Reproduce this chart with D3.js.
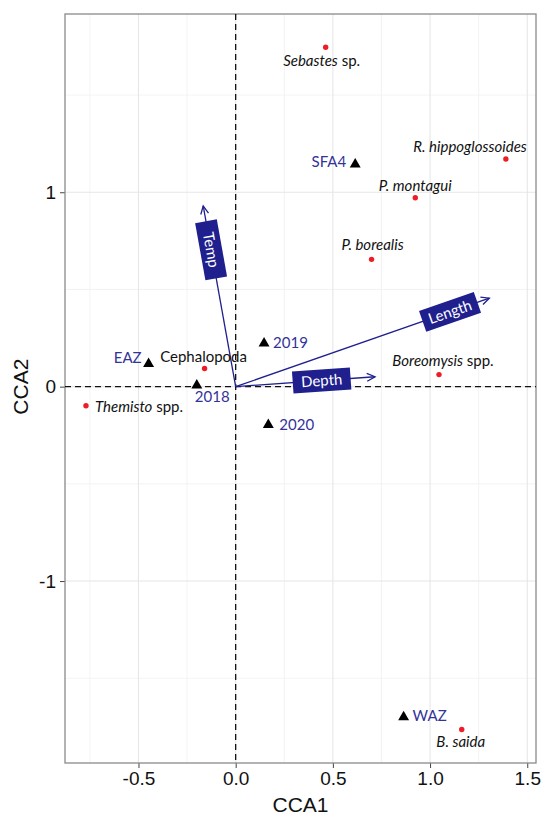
<!DOCTYPE html>
<html>
<head>
<meta charset="utf-8">
<script src="https://cdn.jsdelivr.net/npm/d3@7"></script>
<style>
  html, body { margin: 0; padding: 0; background: #fff; }
  svg { display: block; }
</style>
</head>
<body>
<svg id="chart" width="543" height="815"></svg>
<script>
// ---- CCA ordination scores ----
const speciesNames = ["Sebastes sp.", "R. hippoglossoides", "P. montagui", "P. borealis",
                      "Boreomysis spp.", "Cephalopoda", "Themisto spp.", "B. saida"];
const speciesCCA1 = [0.463, 1.390, 0.924, 0.699, 1.046, -0.160, -0.770, 1.163];
const speciesCCA2 = [1.746, 1.171, 0.972, 0.655, 0.062, 0.093, -0.098, -1.764];

const siteNames = ["SFA4", "EAZ", "2018", "2019", "2020", "WAZ"];
const siteCCA1 = [0.615, -0.448, -0.200, 0.146, 0.168, 0.864];
const siteCCA2 = [1.144, 0.117, 0.007, 0.223, -0.197, -1.700];

const envNames = ["Temp", "Length", "Depth"];
const envCCA1 = [-0.167, 1.305, 0.717];
const envCCA2 = [0.930, 0.455, 0.051];

const xTicks = [-0.5, 0.0, 0.5, 1.0, 1.5];
const yTicks = [-1, 0, 1];
const xMinor = [-0.75, -0.25, 0.25, 0.75, 1.25];
const yMinor = [-1.5, -0.5, 0.5, 1.5];

// ---- layout ----
const svg = d3.select("#chart");
const panel = { left: 65, top: 14, right: 536, bottom: 763 };
const x = d3.scaleLinear().domain([-0.878, 1.545]).range([panel.left, panel.right]);
const y = d3.scaleLinear().domain([-1.936, 1.917]).range([panel.bottom, panel.top]);

const navy = "#1f1f8e";
const siteBlue = "#33339a";
const textFont = "Lato, 'Open Sans', sans-serif";
const axisFont = "'Liberation Sans', Arial, sans-serif";
const hyphenate = f => d => f(d).replace("\u2212", "-");

// grid
const grid = svg.append("g");
grid.selectAll("line.vminor").data(xMinor).join("line")
  .attr("x1", d => x(d)).attr("x2", d => x(d))
  .attr("y1", panel.top).attr("y2", panel.bottom)
  .attr("stroke", "#f0f0f0").attr("stroke-width", 0.8);
grid.selectAll("line.hminor").data(yMinor).join("line")
  .attr("y1", d => y(d)).attr("y2", d => y(d))
  .attr("x1", panel.left).attr("x2", panel.right)
  .attr("stroke", "#f0f0f0").attr("stroke-width", 0.8);
grid.selectAll("line.vmajor").data(xTicks).join("line")
  .attr("x1", d => x(d)).attr("x2", d => x(d))
  .attr("y1", panel.top).attr("y2", panel.bottom)
  .attr("stroke", "#e6e6e6").attr("stroke-width", 1.1);
grid.selectAll("line.hmajor").data(yTicks).join("line")
  .attr("y1", d => y(d)).attr("y2", d => y(d))
  .attr("x1", panel.left).attr("x2", panel.right)
  .attr("stroke", "#e6e6e6").attr("stroke-width", 1.1);

// axes
const xAxis = d3.axisBottom(x).tickValues(xTicks).tickFormat(hyphenate(d3.format(".1f")))
  .tickSize(5).tickPadding(4);
const yAxis = d3.axisLeft(y).tickValues(yTicks).tickFormat(hyphenate(d3.format("d")))
  .tickSize(5).tickPadding(4);

const gx = svg.append("g").attr("transform", `translate(0,${panel.bottom})`).call(xAxis);
const gy = svg.append("g").attr("transform", `translate(${panel.left},0)`).call(yAxis);
[gx, gy].forEach(g => {
  g.select(".domain").remove();
  g.selectAll(".tick line").attr("stroke", "#444").attr("stroke-width", 1);
  g.selectAll(".tick text").attr("fill", "#111").attr("font-family", axisFont)
    .attr("font-size", 19);
});

// panel border
svg.append("rect")
  .attr("x", panel.left).attr("y", panel.top)
  .attr("width", panel.right - panel.left).attr("height", panel.bottom - panel.top)
  .attr("fill", "none").attr("stroke", "#8a8a8a").attr("stroke-width", 1.3);

// zero reference lines
svg.append("line")
  .attr("x1", x(0)).attr("x2", x(0)).attr("y1", panel.top).attr("y2", panel.bottom)
  .attr("stroke", "#111").attr("stroke-width", 1.3).attr("stroke-dasharray", "6,4");
svg.append("line")
  .attr("x1", panel.left).attr("x2", panel.right).attr("y1", y(0)).attr("y2", y(0))
  .attr("stroke", "#111").attr("stroke-width", 1.3).attr("stroke-dasharray", "6,4");

// axis titles
svg.append("text").attr("x", (panel.left + panel.right) / 2).attr("y", 812)
  .attr("text-anchor", "middle").attr("font-family", axisFont).attr("font-size", 21)
  .attr("fill", "#111").text("CCA1");
svg.append("text").attr("transform", `translate(28,${y(0)}) rotate(-90)`)
  .attr("text-anchor", "middle").attr("font-family", axisFont).attr("font-size", 21)
  .attr("fill", "#111").text("CCA2");

// environmental vectors
const envArrows = svg.append("g");
envNames.forEach((name, i) => {
  const x0 = x(0), y0 = y(0), x1 = x(envCCA1[i]), y1 = y(envCCA2[i]);
  const ang = Math.atan2(y1 - y0, x1 - x0);
  envArrows.append("line")
    .attr("x1", x0).attr("y1", y0).attr("x2", x1).attr("y2", y1)
    .attr("stroke", navy).attr("stroke-width", 1.3);
  const head = 9, spread = Math.PI / 7;
  envArrows.append("polyline")
    .attr("points", [
      [x1 - head * Math.cos(ang - spread), y1 - head * Math.sin(ang - spread)],
      [x1, y1],
      [x1 - head * Math.cos(ang + spread), y1 - head * Math.sin(ang + spread)]
    ].map(p => p.join(",")).join(" "))
    .attr("fill", "none").attr("stroke", navy).attr("stroke-width", 1.3);
});

// boxed labels placed along each vector
const envLabelFraction = { Temp: 0.757, Length: 0.845, Depth: 0.617 };
envNames.forEach((name, i) => {
  const x0 = x(0), y0 = y(0), x1 = x(envCCA1[i]), y1 = y(envCCA2[i]);
  const t = envLabelFraction[name];
  const cx = x0 + (x1 - x0) * t, cy = y0 + (y1 - y0) * t;
  let deg = Math.atan2(y1 - y0, x1 - x0) * 180 / Math.PI;
  if (deg < -90) deg += 180;
  const g = svg.append("g").attr("transform", `translate(${cx},${cy}) rotate(${deg})`);
  g.append("rect").attr("x", -29).attr("y", -11).attr("width", 58).attr("height", 22)
    .attr("fill", navy);
  g.append("text").attr("text-anchor", "middle").attr("dy", "0.35em")
    .attr("font-family", textFont).attr("font-size", 15).attr("fill", "#fff").text(name);
});

// sites: black triangles with blue labels
const siteLabel = {
  "SFA4": { dx: -9, dy: 3, anchor: "end" },
  "EAZ":  { dx: -7, dy: -1, anchor: "end" },
  "2018": { dx: -2, dy: 17, anchor: "start" },
  "2019": { dx: 9, dy: 5, anchor: "start" },
  "2020": { dx: 11, dy: 5, anchor: "start" },
  "WAZ":  { dx: 9, dy: 4, anchor: "start" }
};
const tri = d3.symbol().type(d3.symbolTriangle).size(52);
siteNames.forEach((name, i) => {
  const px = x(siteCCA1[i]), py = y(siteCCA2[i]);
  svg.append("path").attr("d", tri).attr("transform", `translate(${px},${py})`)
    .attr("fill", "#000");
  const p = siteLabel[name];
  svg.append("text").attr("x", px + p.dx).attr("y", py + p.dy)
    .attr("text-anchor", p.anchor).attr("font-family", textFont).attr("font-size", 15)
    .attr("fill", siteBlue).text(name);
});

// species: red points with labels (genus names in italics)
const speciesLabel = {
  "Sebastes sp.":       { dx: -4, dy: 19, anchor: "middle" },
  "R. hippoglossoides": { dx: 21, dy: -7, anchor: "end" },
  "P. montagui":        { dx: 0, dy: -7, anchor: "middle" },
  "P. borealis":        { dx: 1, dy: -9, anchor: "middle" },
  "Boreomysis spp.":    { dx: 4, dy: -9, anchor: "middle" },
  "Cephalopoda":        { dx: -1, dy: -7, anchor: "middle" },
  "Themisto spp.":      { dx: 9, dy: 6, anchor: "start" },
  "B. saida":           { dx: -1, dy: 17, anchor: "middle" }
};
const splitName = name => {
  const m = name.match(/^(.*?)( spp?\.)$/);
  return m ? [m[1], m[2]] : [name, ""];
};
speciesNames.forEach((name, i) => {
  const px = x(speciesCCA1[i]), py = y(speciesCCA2[i]);
  svg.append("circle").attr("cx", px).attr("cy", py).attr("r", 2.7).attr("fill", "#ee1c25");
  const p = speciesLabel[name];
  const t = svg.append("text").attr("x", px + p.dx).attr("y", py + p.dy)
    .attr("text-anchor", p.anchor).attr("font-family", textFont).attr("font-size", 15)
    .attr("fill", "#111");
  if (name === "Cephalopoda") {
    t.text(name);
  } else {
    const [ital, rest] = splitName(name);
    t.append("tspan").attr("font-style", "italic").text(ital);
    if (rest) t.append("tspan").text(rest);
  }
});
</script>
</body>
</html>
